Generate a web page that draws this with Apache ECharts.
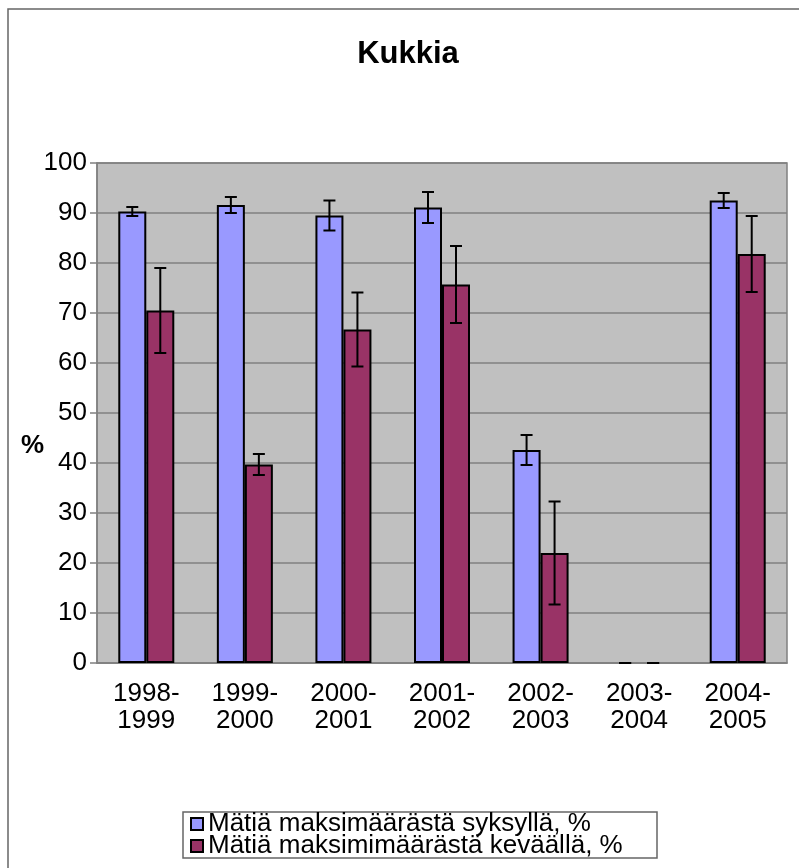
<!DOCTYPE html>
<html>
<head>
<meta charset="utf-8">
<script src="https://cdn.jsdelivr.net/npm/echarts@6/dist/echarts.min.js"></script>
<style>
  html, body { margin: 0; padding: 0; background: #fff; }
  #chart { width: 799px; height: 868px; }
</style>
</head>
<body>
<div id="chart"></div>
<script>
const years = ['1998-\n1999', '1999-\n2000', '2000-\n2001', '2001-\n2002', '2002-\n2003', '2003-\n2004', '2004-\n2005'];
const autumnName = 'Mätiä maksimäärästä syksyllä, %';
const springName = 'Mätiä maksimimäärästä keväällä, %';
const autumn = [90.3, 91.6, 89.5, 91.1, 42.6, 0, 92.5];
const autumnErr = [0.9, 1.6, 3.0, 3.1, 3.0, 0, 1.5];
const spring = [70.5, 39.7, 66.7, 75.7, 22.0, 0, 81.8];
const springErr = [8.5, 2.1, 7.4, 7.7, 10.3, 0, 7.6];
const yTicks = [0, 100, 10]; // min, max, step

const font = 'Arial, "Liberation Sans", sans-serif';
const chart = echarts.init(document.getElementById('chart'));

// empty bars (value 0) get no outline, like in the original
function barData(vals) {
  return vals.map(v => (v === 0 ? { value: 0, itemStyle: { borderWidth: 0 } } : v));
}

// error bar drawn at offset from category center (half a bar width)
function errorSeries(vals, errs, offset) {
  return {
    type: 'custom',
    z: 10,
    silent: true,
    data: vals.map((v, i) => [i, v - errs[i], v + errs[i]]),
    renderItem: function (params, api) {
      const lo = api.coord([api.value(0), api.value(1)]);
      const hi = api.coord([api.value(0), api.value(2)]);
      const x = lo[0] + offset;
      const cap = 6;
      const style = { stroke: '#000', lineWidth: 2 };
      return {
        type: 'group',
        children: [
          { type: 'line', shape: { x1: x, y1: hi[1], x2: x, y2: lo[1] }, style: style },
          { type: 'line', shape: { x1: x - cap, y1: hi[1], x2: x + cap, y2: hi[1] }, style: style },
          { type: 'line', shape: { x1: x - cap, y1: lo[1], x2: x + cap, y2: lo[1] }, style: style }
        ]
      };
    }
  };
}

chart.setOption({
  animation: false,
  backgroundColor: '#fff',
  title: {
    text: 'Kukkia',
    left: 403,
    top: 34,
    textAlign: 'center',
    textStyle: { fontFamily: font, fontSize: 31, fontWeight: 'bold', color: '#000' }
  },
  graphic: [
    {
      type: 'rect',
      shape: { x: 8, y: 9, width: 900, height: 900 },
      style: { fill: 'none', stroke: '#666', lineWidth: 1.5 },
      z: -1
    },
    {
      // legend frame
      type: 'rect',
      shape: { x: 183, y: 812, width: 474, height: 46 },
      style: { fill: '#fff', stroke: '#666', lineWidth: 1.5 },
      z: -1
    },
    {
      type: 'text',
      left: 21,
      top: 433,
      style: { text: '%', fontFamily: font, fontSize: 26, fontWeight: 'bold', fill: '#000' }
    }
  ],
  legend: {
    data: [autumnName, springName],
    orient: 'vertical',
    left: 183,
    top: 811,
    padding: [0, 0, 0, 7],
    itemGap: -4,
    itemWidth: 12,
    itemHeight: 12,
    icon: 'rect',
    textStyle: { fontFamily: font, fontSize: 26, color: '#000' }
  },
  grid: {
    left: 97,
    top: 163,
    right: 12,
    bottom: 205,
    show: true,
    backgroundColor: '#C0C0C0',
    borderColor: '#808080',
    borderWidth: 1.5
  },
  xAxis: {
    type: 'category',
    data: years,
    axisLine: { lineStyle: { color: '#808080', width: 1.5 } },
    axisTick: { length: 7, lineStyle: { color: '#808080', width: 1.5 } },
    axisLabel: { fontFamily: font, fontSize: 26, color: '#000', lineHeight: 27, margin: 17 }
  },
  yAxis: {
    type: 'value',
    min: yTicks[0],
    max: yTicks[1],
    interval: yTicks[2],
    axisLine: { show: true, lineStyle: { color: '#808080', width: 1.5 } },
    axisTick: { show: true, length: 7, lineStyle: { color: '#808080', width: 1.5 } },
    splitLine: { lineStyle: { color: '#808080', width: 1.5 } },
    axisLabel: { fontFamily: font, fontSize: 26, color: '#000', margin: 10 }
  },
  series: [
    {
      name: autumnName,
      type: 'bar',
      data: barData(autumn),
      barWidth: 28,
      barGap: '0%',
      itemStyle: { color: '#9999FF', borderColor: '#000', borderWidth: 2 }
    },
    {
      name: springName,
      type: 'bar',
      data: barData(spring),
      barWidth: 28,
      itemStyle: { color: '#993366', borderColor: '#000', borderWidth: 2 }
    },
    errorSeries(autumn, autumnErr, -14),
    errorSeries(spring, springErr, 14)
  ]
});
</script>
</body>
</html>
